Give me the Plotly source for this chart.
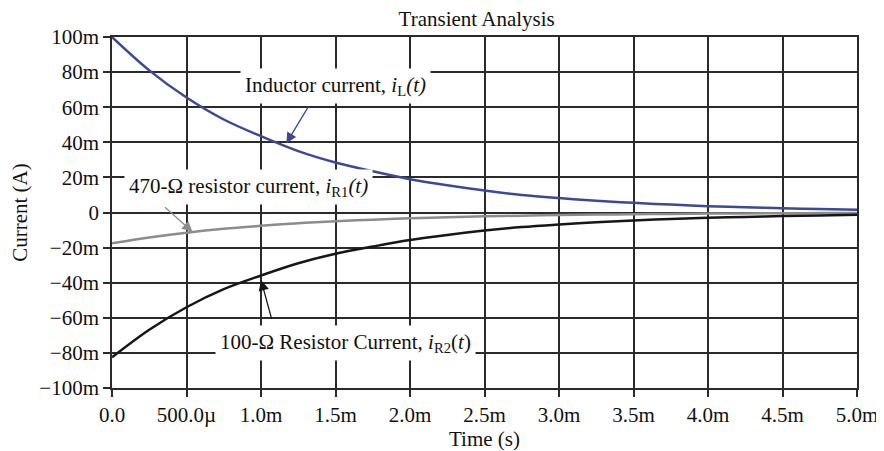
import plotly.graph_objects as go

# time in seconds, currents in amperes
t_ms = [0.0, 0.25, 0.5, 0.75, 1.0, 1.25, 1.5, 1.75, 2.0, 2.25, 2.5,
        2.75, 3.0, 3.25, 3.5, 3.75, 4.0, 4.25, 4.5, 4.75, 5.0]
i_L = [100, 81, 65.5, 53, 43.5, 35, 28.5, 23.5, 19, 15.5, 12.5,
       10, 8.2, 6.7, 5.5, 4.5, 3.6, 3.0, 2.4, 2.0, 1.6]
i_R1 = [-17.5, -14.2, -11.5, -9.3, -7.6, -6.1, -5.0, -4.1, -3.3, -2.7, -2.2,
        -1.8, -1.4, -1.2, -1.0, -0.8, -0.6, -0.5, -0.4, -0.35, -0.3]
i_R2 = [-82.5, -66.8, -54, -43.7, -35.9, -28.9, -23.5, -19.4, -15.7, -12.8, -10.3,
        -8.3, -6.8, -5.5, -4.5, -3.7, -3.0, -2.5, -2.0, -1.65, -1.3]

x_ticks = [0, 0.5, 1.0, 1.5, 2.0, 2.5, 3.0, 3.5, 4.0, 4.5, 5.0]
x_labels = ["0.0", "500.0µ", "1.0m", "1.5m", "2.0m", "2.5m", "3.0m", "3.5m", "4.0m", "4.5m", "5.0m"]
y_ticks = [100, 80, 60, 40, 20, 0, -20, -40, -60, -80, -100]
y_labels = ["100m", "80m", "60m", "40m", "20m", "0", "−20m", "−40m", "−60m", "−80m", "−100m"]

t = [v * 1e-3 for v in t_ms]
ms = lambda arr: [v * 1e-3 for v in arr]

FONT = "Liberation Serif"
GRID = "#2a2a2a"
FS = 21

fig = go.Figure()
fig.add_trace(go.Scatter(x=t, y=ms(i_R1), mode="lines", line=dict(color="#8c8c8c", width=2.5, shape="spline")))
fig.add_trace(go.Scatter(x=t, y=ms(i_R2), mode="lines", line=dict(color="#161616", width=2.5, shape="spline")))
fig.add_trace(go.Scatter(x=t, y=ms(i_L), mode="lines", line=dict(color="#3b4a92", width=2.5, shape="spline")))

labels = [
    (1.50e-3, 72.0e-3, "Inductor current, <i>i</i><sub>L</sub><i>(t)</i>"),
    (0.913e-3, 14.8e-3, "470-Ω resistor current, <i>i</i><sub>R1</sub><i>(t)</i>"),
    (1.565e-3, -74.6e-3, "100-Ω Resistor Current, <i>i</i><sub>R2</sub>(<i>t</i>)"),
]
for x, y, txt in labels:
    fig.add_annotation(x=x, y=y, text=txt, showarrow=False, bgcolor="white",
                       font=dict(family=FONT, size=FS, color="#111"), borderpad=4)

arrows = [
    (1.17e-3, 39.5e-3, 23, -38, "#3b4a92"),
    (0.54e-3, -11.0e-3, -29, -26, "#8c8c8c"),
    (1.0e-3, -38.5e-3, 11, 40, "#161616"),
]
for x, y, ax, ay, c in arrows:
    fig.add_annotation(x=x, y=y, ax=ax, ay=ay, text="", showarrow=True,
                       arrowhead=2, arrowsize=1.6, arrowwidth=1.3, arrowcolor=c)

fig.update_layout(
    width=876, height=443,
    margin=dict(l=104, r=27, t=29, b=63),
    paper_bgcolor="white", plot_bgcolor="white",
    showlegend=False,
    font=dict(family=FONT, size=FS, color="#111"),
    title=dict(text="Transient Analysis", x=0.535, xanchor="center", y=0.977, yanchor="middle",
               font=dict(family=FONT, size=FS, color="#111")),
    xaxis=dict(range=[0, 5e-3], tickvals=ms(x_ticks), ticktext=x_labels, automargin=False,
               showgrid=True, gridcolor=GRID, gridwidth=1.5, zeroline=False,
               showline=True, linecolor=GRID, linewidth=1.5, mirror=True,
               ticks="outside", ticklen=7, tickcolor=GRID, tickwidth=1.5,
               title=dict(text="Time (s)", standoff=4, font=dict(family=FONT, size=FS))),
    yaxis=dict(range=[-100e-3, 100e-3], tickvals=ms(y_ticks), ticktext=y_labels, automargin=False,
               showgrid=True, gridcolor=GRID, gridwidth=1.5, zeroline=False,
               showline=True, linecolor=GRID, linewidth=1.5, mirror=True,
               ticks="outside", ticklen=7, tickcolor=GRID, tickwidth=1.5,
               title=dict(text="Current (A)", standoff=6, font=dict(family=FONT, size=FS))),
)

fig.write_html("out.html")
